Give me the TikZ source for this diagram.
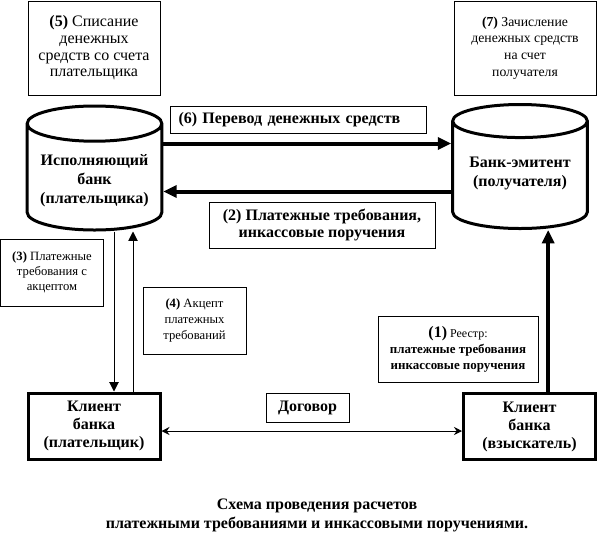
\documentclass[tikz,border=0pt]{standalone}
\usepackage{fontspec}
\setmainfont{Liberation Serif}
\usetikzlibrary{shapes.geometric,arrows.meta}
\tikzset{
  box/.style={draw, line width=0.75pt, align=center, inner sep=2pt},
  client/.style={draw, line width=2.25pt, align=center, minimum width=99pt, minimum height=49.5pt,
    font=\fontsize{12}{13.5}\selectfont\bfseries},
  bank/.style={cylinder, shape border rotate=90, aspect=0.3, draw, line width=2.25pt, align=center,
    anchor=shape center, minimum width=101pt, minimum height=93pt, font=\fontsize{12}{14.25}\selectfont\bfseries},
  fat/.style={line width=3pt, -{Triangle[length=10pt,width=9pt]}},
  slim/.style={line width=0.75pt, -{Triangle[length=7pt,width=7pt]}},
}
\begin{document}
\begin{tikzpicture}[x=0.75pt, y=-0.75pt]
  \useasboundingbox (0,0) rectangle (605,536);
  % upper boxes
  \node [box, minimum width=99pt, minimum height=70.5pt, font=\fontsize{12}{12.5}\selectfont] (spis) at (94,48) {\textbf{(5)} Списание\\денежных\\средств со счета\\плательщика};
  \node [box, minimum width=106.5pt, minimum height=70.5pt, font=\fontsize{10.3}{12.5}\selectfont] (zach) at (525,48) {\textbf{(7)} Зачисление\\денежных средств\\на счет\\получателя};
  \node [box, minimum width=191.25pt, minimum height=20.25pt, text width=180pt, inner xsep=6pt, align=left, font=\fontsize{12}{14}\selectfont\bfseries] (perevod) at (298.5,119.5) {(6) Перевод денежных средств};
  \node [box, minimum width=169.5pt, minimum height=34.5pt, font=\fontsize{12}{12.75}\selectfont\bfseries] (treb) at (322,225) {(2) Платежные требования,\\инкассовые поручения};
  % banks
  \node [bank] (ispBank) at (94.5,168) {Исполняющий\\банк\\(плательщика)};
  \node [bank] (emBank) at (520,166.5) {Банк-эмитент\\(получателя)\\[-3.75pt]\mbox{}};
  % side boxes
  \node [box, minimum width=77.25pt, minimum height=50.25pt, font=\fontsize{9.5}{11.25}\selectfont] (akcTreb) at (52,272.5) {\textbf{(3)} Платежные\\требования с\\акцептом};
  \node [box, minimum width=77.25pt, minimum height=50.25pt, font=\fontsize{9.5}{12}\selectfont] (akcept) at (194.5,320.5) {\textbf{(4)} Акцепт\\платежных\\требований};
  \node [box, minimum width=120pt, minimum height=49.5pt, font=\fontsize{9}{12}\selectfont] (reestr) at (458,349) {{\fontsize{12}{12}\selectfont\bfseries (1)} Реестр:\\\fontsize{9.7}{12}\selectfont\bfseries платежные требования\\\fontsize{9.7}{12}\selectfont\bfseries инкассовые поручения};
  \node [box, minimum width=62.25pt, minimum height=21.75pt, font=\fontsize{12}{14}\selectfont\bfseries] (dogovor) at (307.5,407.5) {Договор};
  % clients
  \node [client] (platelshik) at (94,426) {Клиент\\банка\\(плательщик)};
  \node [client] (vzysk) at (529.5,426.5) {Клиент\\банка\\(взыскатель)};
  \node [align=center, font=\fontsize{12}{14.25}\selectfont\bfseries] (caption) at (317,515) {Схема проведения расчетов\\платежными требованиями и инкассовыми поручениями.};
  % arrows
  \draw [fat] ([yshift=-7.5pt]perevod.south -| ispBank.east) -- ([yshift=-7.5pt]perevod.south -| emBank.west);
  \draw [fat] ([yshift=7.5pt]treb.north -| emBank.west) -- ([yshift=7.5pt]treb.north -| ispBank.east);
  \draw [slim] ([xshift=15pt]platelshik.north |- ispBank.south) -- ([xshift=15pt]platelshik.north);
  \draw [slim] ([xshift=29.25pt]platelshik.north) -- ([xshift=29.25pt]platelshik.north |- ispBank.south);
  \draw [fat] ([xshift=14pt]vzysk.north) -- ([xshift=14pt]vzysk.north |- emBank.south);
  \draw [line width=0.75pt, {Stealth[length=6pt,width=6pt]}-{Stealth[length=6pt,width=6pt]}] ([yshift=-3.75pt]platelshik.east) -- ([yshift=-3.75pt]platelshik.east -| vzysk.west);
\end{tikzpicture}
\end{document}
